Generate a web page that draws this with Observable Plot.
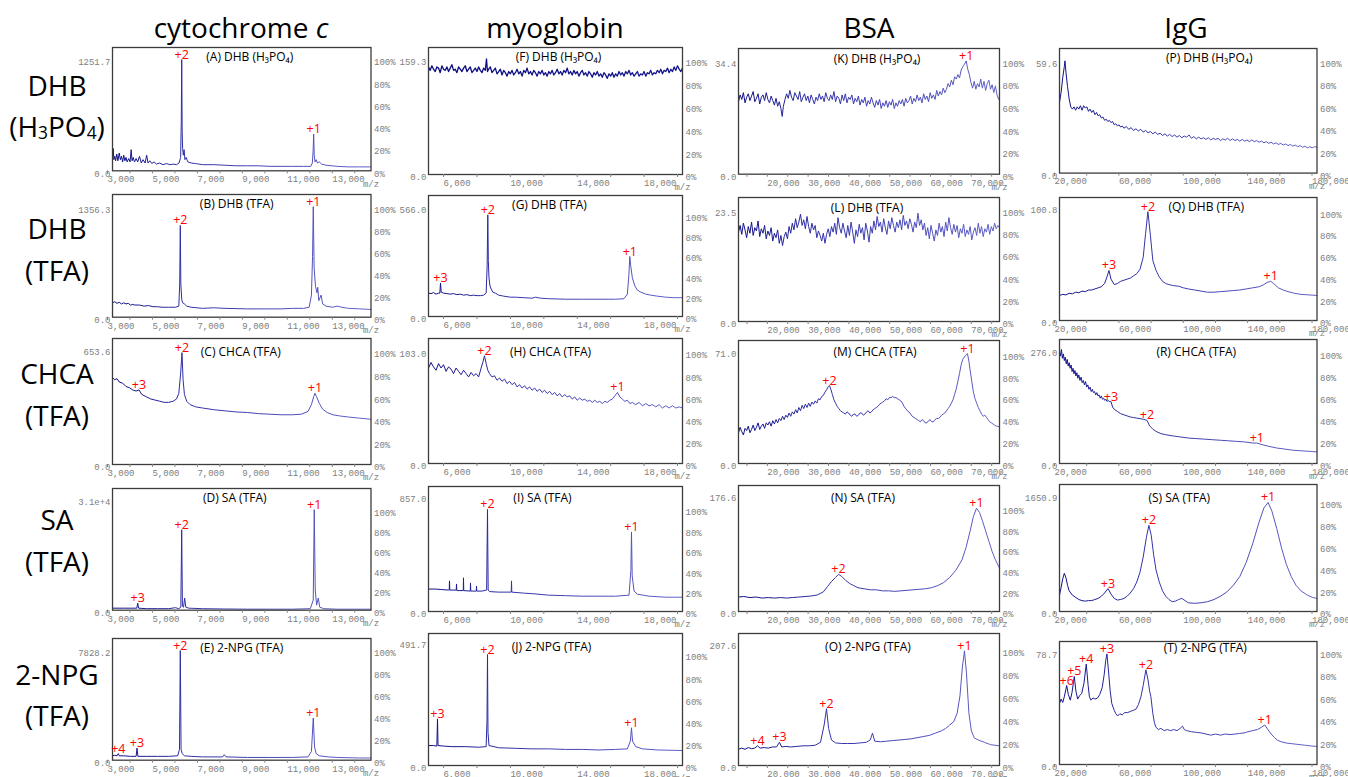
<!DOCTYPE html>
<html><head><meta charset="utf-8">
<script src="https://cdn.jsdelivr.net/npm/d3@7"></script>
<script src="https://cdn.jsdelivr.net/npm/@observablehq/plot@0.6"></script>
<style>
html,body{margin:0;padding:0;background:#fff;}
#root{position:relative;width:1348px;height:777px;overflow:hidden;font-family:"Open Sans","Noto Sans",sans-serif;}
.hdr,.rowlab{position:absolute;transform:translate(-50%,-50%);white-space:nowrap;color:#000;line-height:1;}
.hdr{font-size:28px;}
.rowlab{font-size:28px;}
.sub{font-size:0.62em;vertical-align:-0.12em;}
</style></head><body><div id="root"></div>
<script>
// ---------------- DATA ----------------
const columnHeaders = ["cytochrome <i>c</i>", "myoglobin", "BSA", "IgG"];
const rowLabels = [["DHB", "(H<span class='sub'>3</span>PO<span class='sub'>4</span>)"], ["DHB", "(TFA)"], ["CHCA", "(TFA)"], ["SA", "(TFA)"], ["2-NPG", "(TFA)"]];
const panelLetters = [["A","B","C","D","E"],["F","G","H","I","J"],["K","L","M","N","O"],["P","Q","R","S","T"]];
const panelTitles = {A:"(A) DHB (H₃PO₄)",B:"(B) DHB (TFA)",C:"(C) CHCA (TFA)",D:"(D) SA (TFA)",E:"(E) 2-NPG (TFA)",
  F:"(F) DHB (H₃PO₄)",G:"(G) DHB (TFA)",H:"(H) CHCA (TFA)",I:"(I) SA (TFA)",J:"(J) 2-NPG (TFA)",
  K:"(K) DHB (H₃PO₄)",L:"(L) DHB (TFA)",M:"(M) CHCA (TFA)",N:"(N) SA (TFA)",O:"(O) 2-NPG (TFA)",
  P:"(P) DHB (H₃PO₄)",Q:"(Q) DHB (TFA)",R:"(R) CHCA (TFA)",S:"(S) SA (TFA)",T:"(T) 2-NPG (TFA)"};
const maxLabels = {A:"1251.7",B:"1356.3",C:"653.6",D:"3.1e+4",E:"7828.2",F:"159.3",G:"566.0",H:"103.0",I:"857.0",J:"491.7",
  K:"34.4",L:"23.5",M:"71.0",N:"176.6",O:"207.6",P:"59.6",Q:"100.8",R:"276.0",S:"1650.9",T:"78.7"};
const pctTicks = [0, 0.2, 0.4, 0.6, 0.8, 1.0];

const ticksCyt = [3000,4000,5000,6000,7000,8000,9000,10000,11000,12000,13000,14000];
const labelsCyt = [3000,5000,7000,9000,11000,13000];
const ticksMyo = [6000,8000,10000,12000,14000,16000,18000,20000];
const labelsMyo = [6000,10000,14000,18000];
const ticksBsa = [15000,20000,25000,30000,35000,40000,45000,50000,55000,60000,65000,70000,75000];
const labelsBsa = [20000,30000,40000,50000,60000,70000];
const ticksIgg = [20000,40000,60000,80000,100000,120000,140000,160000,180000];
const labelsIgg = [20000,60000,100000,140000,180000];

// spectra: [m/z, % of max]
const specA = [[3000,14],[3030,20],[3060,10],[3100,13],[3140,9],[3190,15],[3240,9],[3300,16],[3350,10],[3400,13],[3450,8],[3500,14],[3550,9],[3600,12],[3650,8],[3720,11],[3780,8],[3830,19],[3870,9],[3920,12],[3980,8],[4050,11],[4120,8],[4200,13],[4280,7],[4360,10],[4450,7],[4520,14],[4580,7],[4660,9],[4750,6.5],[4850,8],[4950,6],[5100,7],[5250,5.5],[5400,6.5],[5550,5.5],[5700,6],[5850,5.5],[5960,7],[6030,12],[6060,45],[6080,100],[6100,35],[6120,20],[6150,14],[6185,19],[6220,10],[6280,12],[6350,8],[6500,7],[6700,6.5],[7000,5.5],[7500,5.5],[8000,5],[8500,4.5],[9000,4.5],[9500,4.5],[10000,4],[10500,4],[11000,4],[11500,4],[11820,4],[11890,7],[11925,18],[11950,33],[11975,14],[12010,8],[12060,10],[12120,7],[12200,8],[12300,6],[12500,5],[13000,4],[13500,3.5],[14000,3.5],[14500,3.5]];
const specB = [[3000,13],[3100,14],[3200,12.5],[3300,13.5],[3400,12],[3500,13],[3600,12],[3700,12.5],[3800,11],[3900,11.5],[4000,11],[4200,11],[4400,10],[4600,10.5],[4800,9.5],[5000,9.5],[5200,9],[5500,9],[5800,9],[5950,10],[5990,30],[6016,83],[6040,30],[6080,16],[6120,13],[6200,12],[6300,10],[6500,9],[7000,8],[7500,8.5],[8000,8],[9000,7.5],[10000,7.5],[10500,7.5],[11000,8],[11500,8],[11750,9],[11850,20],[11900,55],[11932,100],[11970,45],[12030,28],[12100,22],[12130,27],[12180,15],[12280,20],[12350,12],[12500,10],[12800,9],[13000,10],[13200,9],[13500,8],[14000,7.5],[14500,7]];
const specC = [[3000,77],[3100,75],[3200,76],[3300,73],[3450,72],[3600,69],[3750,68],[3900,66],[4050,65],[4179,66],[4300,62],[4500,60],[4700,58],[4900,57],[5100,56],[5300,55],[5500,55],[5700,56],[5850,58],[5950,63],[6030,80],[6091,99],[6140,75],[6200,62],[6300,56],[6450,53],[6700,51],[7000,50],[7500,48.5],[8000,47.5],[8500,46.5],[9000,46],[9500,45],[10000,44.5],[10500,44],[11000,44],[11400,44.5],[11700,47],[11850,53],[11950,60],[12007,63],[12080,60],[12200,54],[12350,49],[12550,46],[12800,44],[13100,43],[13500,42],[14000,41],[14500,40]];
const specD = [[3000,2],[3500,2],[4000,2],[4080,2],[4121,7],[4160,2],[4500,1.5],[5000,1.5],[5500,1.5],[5800,2.5],[5950,1.5],[6040,3],[6078,80],[6110,4],[6160,3],[6211,12],[6260,3],[6400,2],[7000,1.5],[8000,1.2],[9000,1],[10000,1],[11000,1],[11800,1.5],[11930,10],[11976,100],[12020,20],[12080,5],[12154,12],[12220,3],[12400,1.5],[13000,1],[14500,1]];
const specE = [[3000,4],[3100,4.5],[3200,4],[3258,6],[3300,4],[3500,4],[3800,3.5],[4050,3.5],[4090,11],[4130,3.5],[4500,3.5],[5000,3.5],[5500,3.5],[5900,4],[5980,10],[6016,100],[6050,10],[6100,6],[6200,4],[6500,3.5],[7000,3],[7900,3],[7973,5],[8050,3],[9000,2.5],[10000,2.5],[11000,2.5],[11700,3],[11850,8],[11932,38.5],[11990,12],[12060,6],[12200,4],[12600,3],[13000,2.5],[14000,2],[14500,2]];
const specF = [[4800,94],[4900,91],[5000,95],[5100,92],[5200,90],[5300,94],[5400,93],[5500,89],[5600,95],[5700,92],[5800,91],[5900,94],[6000,90],[6100,93],[6200,96],[6300,91],[6400,92],[6500,89],[6600,94],[6700,92],[6800,90],[6900,93],[7000,95],[7100,90],[7200,92],[7300,94],[7400,89],[7500,91],[7600,93],[7700,90],[7800,94],[7900,91],[8000,89],[8100,93],[8200,91],[8271,101],[8330,90],[8400,92],[8500,94],[8600,89],[8700,91],[8800,93],[8900,88],[9000,90],[9100,92],[9200,87],[9300,91],[9400,89],[9500,86],[9600,90],[9700,88],[9800,91],[9900,87],[10000,89],[10100,92],[10200,88],[10300,90],[10400,86],[10500,91],[10600,89],[10700,93],[10800,88],[10900,90],[11000,87],[11100,91],[11200,89],[11300,86],[11400,90],[11500,88],[11600,91],[11700,87],[11800,89],[11900,86],[12000,90],[12100,88],[12200,91],[12300,87],[12400,89],[12500,92],[12600,88],[12700,90],[12800,87],[12900,91],[13000,89],[13100,93],[13200,88],[13300,90],[13400,87],[13500,91],[13600,88],[13700,90],[13800,86],[13900,89],[14000,91],[14100,87],[14200,89],[14300,86],[14400,90],[14500,88],[14600,85],[14700,89],[14800,87],[14900,90],[15000,86],[15100,88],[15200,85],[15300,89],[15400,87],[15500,84],[15600,88],[15700,86],[15800,89],[15900,85],[16000,88],[16100,86],[16200,90],[16300,87],[16400,89],[16500,86],[16600,90],[16700,88],[16800,91],[16900,87],[17000,89],[17100,86],[17200,88],[17300,90],[17400,86],[17500,88],[17600,87],[17700,90],[17800,86],[17900,89],[18000,88],[18100,91],[18200,87],[18300,89],[18400,88],[18500,91],[18600,89],[18700,92],[18800,88],[18900,91],[19000,90],[19100,93],[19200,89],[19300,92],[19400,90],[19500,94],[19600,91],[19700,95],[19800,92],[19900,90],[20000,93]];
const specG = [[4800,23],[4950,22.5],[5100,23.5],[5250,22],[5400,23],[5480,23],[5518,33],[5560,24],[5700,23],[5900,22.5],[6100,22],[6300,22.5],[6500,21.5],[6700,22],[6900,21],[7100,21.5],[7300,20.5],[7500,21],[7700,20.5],[7900,20.5],[8100,21],[8250,23],[8310,50],[8349,100],[8380,55],[8420,38],[8480,30],[8550,27],[8650,24],[8800,23],[9000,21],[9300,20],[9700,19],[10000,19],[10500,18.5],[11000,18],[11200,19],[11500,18],[12000,17.5],[13000,17],[14000,17],[15000,17],[16000,17],[16500,17.5],[16700,22],[16790,40],[16846,59],[16900,50],[17000,38],[17150,30],[17300,26],[17500,24],[17800,22],[18100,21],[18500,20],[19000,19],[19500,18.5],[20000,18.5]];
const specH = [[4800,86],[4950,91],[5100,87],[5250,84],[5400,90],[5550,86],[5700,89],[5850,83],[6000,87],[6150,85],[6300,81],[6450,86],[6600,83],[6750,80],[6900,84],[7050,81],[7200,78],[7350,82],[7500,79],[7650,81],[7800,78],[7950,86],[8050,91],[8151,97],[8250,90],[8350,84],[8450,81],[8600,78],[8750,79],[8900,75],[9050,77],[9200,74],[9350,76],[9500,72],[9650,74],[9800,71],[9950,73],[10100,69],[10250,71],[10400,68],[10550,70],[10700,67],[10850,69],[11000,66],[11150,68],[11300,65],[11450,67],[11600,64],[11750,66],[11900,63],[12050,65],[12200,62],[12350,64],[12500,61],[12650,63],[12800,60],[12950,62],[13100,60],[13250,61],[13400,58],[13550,60],[13700,57],[13850,59],[14000,57],[14150,58],[14300,56],[14450,57],[14600,55],[14750,57],[14900,55],[15050,56],[15200,54],[15350,56],[15500,55],[15650,57],[15800,58],[15950,61],[16110,64],[16250,60],[16400,58],[16550,56],[16700,57],[16850,54],[17000,55],[17200,53],[17400,55],[17600,52],[17800,54],[18000,52],[18200,53],[18400,51],[18600,53],[18800,50],[19000,52],[19200,50],[19400,52],[19600,50],[19800,51],[20000,50]];
const specI = [[4800,22],[5200,22],[5600,21.5],[6000,21],[6040,21],[6057,30],[6075,21],[6460,21],[6476,27],[6495,20.5],[6880,20.5],[6894,33],[6910,20.5],[7300,20],[7313,28],[7330,20],[7660,20],[7672,25],[7690,20],[8000,20],[8280,21],[8331,100],[8370,21],[8450,19.5],[9000,19],[9750,19],[9767,30],[9785,19],[10500,18],[11000,17.5],[12000,16],[13000,15.5],[14000,15],[15000,15],[16000,15],[16800,16],[16910,40],[16948,78],[16990,35],[17100,20],[17300,17],[18000,15],[19000,14],[20000,14]];
const specJ = [[4800,18],[5100,18],[5300,17.5],[5339,42],[5370,18],[5700,17.5],[6200,17],[7000,17],[7800,16.5],[8250,17],[8300,40],[8331,100],[8360,30],[8420,18],[9000,16],[10000,15.5],[11000,15],[12000,15],[13000,14.5],[14000,14.5],[15000,14],[16000,14.5],[16700,15],[16880,22],[16948,34],[17010,22],[17200,17],[17600,15],[18500,14],[20000,13.5]];
const specK = [[11700,64],[12100,70],[12500,66],[12900,72],[13300,63],[13700,68],[14100,71],[14500,65],[14900,69],[15300,73],[15700,64],[16100,67],[16500,71],[16900,62],[17300,68],[17700,70],[18100,65],[18500,72],[18900,66],[19300,63],[19700,69],[20100,65],[20500,61],[20900,67],[21300,60],[21700,64],[22100,58],[22415,51],[22700,60],[23100,66],[23500,71],[23900,67],[24300,74],[24700,68],[25100,65],[25500,72],[25900,69],[26300,66],[26700,73],[27100,64],[27500,68],[27900,71],[28300,65],[28700,69],[29100,63],[29500,70],[29900,66],[30300,62],[30700,68],[31100,65],[31500,71],[31900,66],[32300,69],[32700,64],[33100,72],[33500,67],[33900,65],[34300,70],[34700,66],[35100,73],[35500,64],[35900,69],[36300,67],[36700,62],[37100,70],[37500,65],[37900,71],[38300,63],[38700,68],[39100,66],[39500,70],[39900,62],[40300,67],[40700,64],[41100,69],[41500,61],[41900,66],[42300,63],[42700,68],[43100,60],[43500,65],[43900,62],[44300,68],[44700,63],[45100,59],[45500,65],[45900,61],[46300,66],[46700,58],[47100,63],[47500,60],[47900,65],[48300,59],[48700,64],[49100,61],[49500,66],[49900,58],[50300,63],[50700,60],[51100,65],[51500,62],[51900,66],[52300,60],[52700,67],[53100,63],[53500,65],[53900,69],[54300,62],[54700,67],[55100,64],[55500,70],[55900,65],[56300,68],[56700,63],[57100,71],[57500,66],[57900,69],[58300,64],[58700,72],[59100,67],[59500,70],[59900,66],[60300,74],[60700,69],[61100,73],[61500,70],[61900,76],[62300,72],[62700,75],[63100,80],[63500,77],[63900,83],[64300,79],[64700,86],[65100,84],[65500,88],[65900,85],[66300,92],[66700,95],[67100,97],[67530,100],[67900,93],[68300,88],[68700,81],[69100,76],[69500,82],[69900,75],[70300,80],[70700,77],[71100,84],[71500,76],[71900,82],[72300,74],[72700,80],[73100,83],[73500,75],[73900,79],[74300,72],[74700,78],[75100,70],[75500,66],[75700,68]];
const specL = [[11700,80],[12100,86],[12500,78],[12900,88],[13300,82],[13700,75],[14100,85],[14500,79],[14900,89],[15300,77],[15700,84],[16100,81],[16500,90],[16900,76],[17300,83],[17700,79],[18100,86],[18500,74],[18900,81],[19300,77],[19700,84],[20100,72],[20500,79],[20900,75],[21300,82],[21700,70],[22100,77],[22500,68],[22900,76],[23300,80],[23700,74],[24100,85],[24500,79],[24900,88],[25300,82],[25700,92],[26100,84],[26500,89],[26900,96],[27300,86],[27700,91],[28100,83],[28500,94],[28900,85],[29300,79],[29700,88],[30100,82],[30500,86],[30900,75],[31300,81],[31700,77],[32100,72],[32500,79],[32900,70],[33300,78],[33700,83],[34100,76],[34500,85],[34900,80],[35300,88],[35700,78],[36100,93],[36500,84],[36900,79],[37300,88],[37700,81],[38100,75],[38500,86],[38900,77],[39300,89],[39700,80],[40100,70],[40500,82],[40900,76],[41300,87],[41700,79],[42100,84],[42500,73],[42900,88],[43300,81],[43700,71],[44100,85],[44500,79],[44900,90],[45300,82],[45700,94],[46100,85],[46500,89],[46900,80],[47300,92],[47700,84],[48100,78],[48500,90],[48900,83],[49300,93],[49700,86],[50100,80],[50500,89],[50900,84],[51300,91],[51700,82],[52100,95],[52500,86],[52900,90],[53300,83],[53700,92],[54100,87],[54500,80],[54900,89],[55300,84],[55700,97],[56100,86],[56500,91],[56900,82],[57300,88],[57700,77],[58100,84],[58500,74],[58900,86],[59300,79],[59700,72],[60100,82],[60500,77],[60900,88],[61300,80],[61700,85],[62100,76],[62500,89],[62900,81],[63300,93],[63700,84],[64100,78],[64500,87],[64900,80],[65300,86],[65700,75],[66100,83],[66500,79],[66900,87],[67300,76],[67700,82],[68100,78],[68500,85],[68900,73],[69300,80],[69700,84],[70100,77],[70500,88],[70900,79],[71300,85],[71700,76],[72100,83],[72500,80],[72900,87],[73300,78],[73700,85],[74100,81],[74500,88],[74900,83],[75300,86],[75700,84]];
const specM = [[11700,28],[12100,33],[12500,29],[12900,26],[13300,32],[13700,30],[14100,34],[14500,28],[14900,31],[15300,35],[15700,30],[16100,33],[16500,37],[16900,31],[17300,34],[17700,36],[18100,32],[18500,37],[18900,35],[19300,38],[19700,34],[20100,39],[20500,36],[20900,40],[21300,37],[21700,41],[22100,39],[22500,43],[22900,40],[23300,44],[23700,42],[24100,46],[24500,43],[24900,47],[25300,45],[25700,49],[26100,46],[26500,51],[26900,48],[27300,53],[27700,50],[28100,54],[28500,51],[28900,55],[29300,52],[29700,56],[30100,54],[30500,57],[30900,55],[31300,59],[31700,58],[32100,61],[32500,62],[32900,65],[33300,67],[33700,70],[34010,71],[34400,67],[34700,63],[35100,58],[35500,55],[35900,52],[36300,50],[36700,48],[37100,47],[37500,46],[37900,45],[38300,47],[38700,46],[39100,44],[39500,43],[39900,45],[40300,45],[40700,43],[41100,44],[41500,46],[41900,46],[42300,44],[42700,45],[43100,47],[43500,48],[43900,46],[44300,47],[44700,49],[45100,50],[45500,51],[45900,52],[46300,54],[46700,55],[47100,56],[47500,57],[47900,59],[48300,58],[48700,60],[49100,60],[49500,61],[49900,60],[50300,60],[50700,59],[51100,58],[51500,57],[51900,55],[52300,52],[52700,50],[53100,48],[53500,47],[53900,45],[54300,43],[54700,42],[55100,41],[55500,40],[55900,39],[56300,38],[56700,40],[57100,39],[57500,37],[57900,37],[58300,39],[58700,40],[59100,38],[59500,38],[59900,40],[60300,41],[60700,41],[61100,42],[61500,44],[61900,45],[62300,46],[62700,48],[63100,50],[63500,52],[63900,55],[64300,58],[64700,63],[65100,68],[65500,75],[65900,82],[66300,90],[66700,95],[67300,98],[67850,100],[68200,93],[68500,85],[68900,75],[69300,65],[69700,59],[70100,55],[70500,51],[70900,48],[71300,45],[71700,43],[72100,44],[72500,42],[72900,40],[73300,38],[73700,37],[74100,36],[74500,35],[74900,34],[75300,34],[75700,33]];
const specN = [[11700,14],[13000,14.5],[14500,13.5],[16000,14],[17500,13],[19000,13.5],[20500,13],[22000,13.5],[23500,13],[25000,13.5],[26500,14],[28000,14.5],[29500,15],[31000,16],[32500,19],[33500,24],[34500,29],[35500,33],[36220,36],[37000,34],[38000,30],[39000,27],[40000,25],[41000,23],[42500,22],[44000,21],[45500,21],[47000,20],[48500,20],[50000,19.5],[51500,20],[53000,20.5],[54500,21],[56000,21.5],[57500,22],[59000,23],[60500,25],[62000,28],[63500,33],[65000,40],[66500,50],[67500,62],[68500,78],[69300,92],[70060,100],[70800,96],[71500,88],[72300,78],[73100,68],[73900,58],[74700,50],[75700,42]];
const specO = [[11700,14],[12500,15],[13300,14],[14100,15.5],[14900,14.5],[15700,15],[16360,17],[17000,15],[18000,15.5],[19000,15],[20000,16],[21000,16],[21750,20],[22300,16],[23300,16.5],[24500,16],[26000,16.5],[27500,17],[29000,17],[30500,17.5],[31800,20],[32700,35],[33280,49],[33800,32],[34500,22],[35500,19.5],[37000,19],[38500,19],[40000,19],[41500,19.5],[43000,20],[44000,22],[44560,28],[45100,21],[46500,20.5],[48000,21],[49500,21.5],[51000,22],[52500,22.5],[54000,23],[55500,24],[57000,25],[58500,26],[60000,28],[61500,30],[62500,32],[63500,35],[64500,38],[65300,45],[66000,60],[66600,85],[67110,99],[67600,80],[68200,45],[68800,30],[69500,24],[70500,22],[72000,20],[73500,18],[75700,17]];
const specP = [[20000,63],[21000,72],[22000,85],[23000,95],[23400,100],[24000,90],[25000,77],[26000,66],[27000,59],[28000,57],[29000,59],[30000,56],[31000,59],[32000,57],[33000,60],[34000,56],[35000,60],[36000,58],[37000,59],[38000,55],[39000,57],[40000,54],[41000,56],[42000,52],[43000,54],[44000,51],[45000,52],[46000,49],[47000,50],[48000,47],[49000,48],[50000,46],[51000,47],[52000,45],[53000,46],[54000,43],[55000,44],[56000,42],[57000,43],[58000,41],[59000,42],[60000,40],[61500,41.5],[63000,39],[64500,40.5],[66000,38],[67500,39.5],[69000,37.5],[70500,39],[72000,36.5],[73500,38],[75000,36],[76500,37],[78000,35],[79500,36.5],[81000,34.5],[82500,35.5],[84000,33.5],[85500,35],[87000,33],[88500,34.5],[90000,32.5],[91500,34],[93000,32],[94500,33.5],[96000,31.5],[97500,33],[99000,32],[100500,34],[102000,31],[103500,32.5],[105000,30.5],[106500,32],[108000,30.5],[109500,31.5],[111000,30],[112500,31.5],[114000,29.5],[115500,31],[117000,30],[118500,31],[120000,29],[121500,30.5],[123000,29.5],[124500,31],[126000,29],[127500,30.5],[129000,29],[130500,30],[132000,28.5],[133500,30],[135000,28.5],[136500,29.5],[138000,28],[139500,29.5],[141000,28],[142500,29],[144000,27.5],[145500,28.5],[147000,27],[148500,28],[150000,26.5],[151500,27.5],[153000,26],[154500,27],[156000,25.5],[157500,26.5],[159000,25],[160500,26],[162000,24.5],[163500,25.5],[165000,24],[166500,25],[168000,23.5],[169500,24.5],[171000,23],[172500,24],[174000,22.5],[175500,23.5],[177000,22.5],[178500,23.5],[180000,23]];
const specQ = [[20000,23],[22000,24],[24000,23.5],[26000,25],[28000,24.5],[30000,26],[32000,25.5],[34000,27],[36000,26.5],[38000,28],[40000,28],[42000,29],[44000,30],[46000,31],[48000,34],[49500,40],[50720,46],[52000,38],[54000,33],[56000,34],[58000,36],[60000,37],[62000,38],[64000,39],[66000,41],[68000,43],[70000,47],[72000,58],[73500,80],[74920,100],[76500,78],[78000,55],[80000,46],[82000,40],[84000,36],[86000,34],[88000,33],[91000,32],[94000,31.5],[97000,30],[100000,29],[104000,28],[108000,27],[112000,26],[116000,26],[120000,26.5],[124000,27],[128000,27.5],[132000,28],[136000,29],[140000,30],[144000,31],[147000,33],[149000,35],[151250,36],[153000,34],[156000,30],[159000,28],[162000,26.5],[166000,25],[170000,24],[175000,23.5],[180000,23]];
const specR = [[20000,101],[20600,97],[21200,103],[21800,95],[22400,99],[23000,93],[23600,96],[24200,90],[24800,94],[25400,88],[26000,91],[26600,86],[27200,89],[27800,83],[28400,86],[29000,81],[29600,84],[30200,79],[30800,82],[31400,77],[32000,80],[32700,75],[33400,78],[34100,73],[34800,75],[35500,71],[36200,74],[36900,69],[37600,71],[38300,67],[39000,69],[39700,65],[40400,67],[41100,64],[41800,65],[42500,62],[43200,64],[43900,61],[44600,62],[45300,59],[46000,61],[46700,58],[47400,59],[48100,57],[48800,58],[49500,56],[50200,57],[51000,56],[51970,56],[53000,51],[54000,49],[56000,47],[58000,45],[60000,44],[62000,43],[64000,42],[66000,41.5],[68000,41],[70000,40.5],[72000,40],[74310,39],[76000,34],[78000,31],[80000,29],[83000,27],[86000,26],[90000,25],[95000,24],[100000,23],[105000,22.5],[110000,22],[115000,21.5],[120000,21],[125000,20.5],[130000,20],[135000,19.5],[140000,18.5],[142580,18.5],[146000,17],[150000,15.5],[155000,14],[160000,13],[165000,12],[170000,11.5],[175000,11],[180000,10.5]];
const specS = [[20000,15],[21000,22],[22000,30],[23000,35],[24000,31],[25000,24],[26000,19],[28000,15],[30000,13],[32000,11],[34000,10],[36000,9.5],[38000,10],[40000,10],[42000,11],[44000,12],[46000,14],[48000,17],[50100,21],[52000,16],[54000,12],[56000,10.5],[58000,11],[60000,12],[62000,14],[64000,17],[66000,21],[68000,27],[70000,36],[72000,50],[74000,68],[75540,79],[77000,70],[78500,52],[80000,38],[82000,27],[84000,19],[86000,14],[88000,11],[90000,9],[92000,9.5],[94000,11],[96000,12],[98000,10],[100000,8],[104000,7.5],[108000,8],[112000,9],[116000,11],[120000,14],[124000,18],[128000,24],[132000,32],[136000,45],[140000,62],[144000,82],[147000,95],[149600,100],[152000,92],[155000,76],[158000,58],[161000,43],[164000,32],[167000,24],[170000,19],[174000,15],[177000,13],[180000,12]];
const specT = [[20000,54],[21000,58],[22000,55],[23000,60],[24470,70],[25500,62],[26700,57],[27800,64],[29180,78],[30200,65],[31290,58],[32500,61],[33800,63],[35200,72],[36630,89],[37800,70],[38600,60],[39550,57],[40800,59],[42000,58],[43700,59],[45000,62],[46500,68],[47800,80],[48700,92],[49480,98],[50500,82],[51500,65],[52500,54],[54000,48],[55000,45],[56100,43],[57500,45],[59000,44],[60500,46],[62300,46],[64000,47],[65800,48],[67500,49],[69000,53],[70600,60],[72000,70],[73680,84],[75000,75],[76000,65],[76790,60],[78000,45],[79000,37],[79900,33],[81500,31],[83000,32],[85030,30],[87000,31],[89000,30],[91000,31],[93000,30],[95000,32],[96460,34],[97500,31],[99000,30],[102000,29],[105000,28.5],[108000,28],[111000,27],[114000,26],[117000,27],[120000,26],[123000,27],[126000,26.5],[129000,27],[132000,27.5],[134700,28],[137000,29],[140000,30],[143000,31],[145500,33],[147530,35],[149500,31],[151500,27],[153500,24],[155400,21.5],[158000,20],[161000,19],[164000,18.5],[167000,18],[170000,17.5],[173000,17],[176000,16.5],[180000,16]];

// charge-state labels: [text, m/z, % of max]
const peaksA = [["+2",6080,100],["+1",11950,33]];
const peaksB = [["+2",6016,83],["+1",11932,100]];
const peaksC = [["+3",4179,66],["+2",6091,99],["+1",12007,63]];
const peaksD = [["+3",4121,7],["+2",6078,80],["+1",11976,100]];
const peaksE = [["+4",3258,6],["+3",4090,11],["+2",6016,100],["+1",11932,38.5]];
const peaksF = [];
const peaksG = [["+3",5518,33],["+2",8349,100],["+1",16846,59]];
const peaksH = [["+2",8151,97],["+1",16110,64]];
const peaksI = [["+2",8331,100],["+1",16948,78]];
const peaksJ = [["+3",5339,42],["+2",8331,100],["+1",16948,34]];
const peaksK = [["+1",67530,100]];
const peaksL = [];
const peaksM = [["+2",34010,71],["+1",67850,100]];
const peaksN = [["+2",36220,36],["+1",70060,100]];
const peaksO = [["+4",16360,17],["+3",21750,20],["+2",33280,49],["+1",67110,99]];
const peaksP = [];
const peaksQ = [["+3",50720,46],["+2",74920,100],["+1",151250,36]];
const peaksR = [["+3",51970,56],["+2",74310,39],["+1",142580,18.5]];
const peaksS = [["+3",50100,21],["+2",75540,79],["+1",149600,100]];
const peaksT = [["+6",24470,70],["+5",29180,78],["+4",36630,89],["+3",49480,98],["+2",73680,84],["+1",147530,35]];

const spectra = {A:specA,B:specB,C:specC,D:specD,E:specE,F:specF,G:specG,H:specH,I:specI,J:specJ,K:specK,L:specL,M:specM,N:specN,O:specO,P:specP,Q:specQ,R:specR,S:specS,T:specT};
const peaks = {A:peaksA,B:peaksB,C:peaksC,D:peaksD,E:peaksE,F:peaksF,G:peaksG,H:peaksH,I:peaksI,J:peaksJ,K:peaksK,L:peaksL,M:peaksM,N:peaksN,O:peaksO,P:peaksP,Q:peaksQ,R:peaksR,S:peaksS,T:peaksT};

// ---------------- LAYOUT ----------------
const colAxes = [
  {domain:[3000,14500], ticks:ticksCyt, labels:labelsCyt, x0:111.5, x1:370},
  {domain:[4800,20000], ticks:ticksMyo, labels:labelsMyo, x0:428, x1:682},
  {domain:[11700,75700], ticks:ticksBsa, labels:labelsBsa, x0:738, x1:999},
  {domain:[20000,180000], ticks:ticksIgg, labels:labelsIgg, x0:1058.5, x1:1316}
];
// letter: [frameTop, frameBottom, yMax, maxLabelAt, titleDx, titleDy, lineStyle]
const layout = {
  A:[46.7,170,1.108,1.0,8,9.5,0], B:[194,316.7,1.11,1.0,-5,10,0], C:[338,464,1.115,1.02,-1,14,0], D:[488.3,610,1.21,1.1,-7,10,0], E:[638.3,760,1.11,1.0,0,10,0],
  F:[47.3,174.3,1.11,1.01,3,9.5,1], G:[195,316,1.19,1.08,-6,10,0], H:[338,463,1.126,1.01,-5,14,0], I:[486,611,1.225,1.13,-13,12,0], J:[633,765,1.19,1.11,-4,14,0],
  K:[48.3,174,1.11,1.0,8,11,0], L:[196.7,320.7,1.11,1.0,-2,10.5,0], M:[340,463,1.12,1.02,6,12,0], N:[485,611,1.22,1.13,-6,13,0], O:[633,765,1.14,1.06,-1,14,0],
  P:[47.7,172.3,1.11,1.0,21,9.5,0], Q:[197,320,1.13,1.04,18,10,0], R:[339,463,1.12,1.02,8,13,0], S:[484,611,1.165,1.07,-9,14,0], T:[641,764,1.09,1.0,17,7,0]
};
const headerPos = [[241,27],[555,27],[869,27],[1186,27]];
const rowLabelPos = [[57,85,127],[57,228,270],[57,373,415],[57,519,561],[57,674,715]];

const mono = "'Liberation Mono','DejaVu Sans Mono',monospace";
const sans = "'Open Sans','Noto Sans',sans-serif";
const root = document.getElementById("root");

columnHeaders.forEach((h, i) => {
  const d = document.createElement("div"); d.className = "hdr"; d.innerHTML = h;
  d.style.left = headerPos[i][0] + "px"; d.style.top = headerPos[i][1] + "px"; root.appendChild(d);
});
rowLabels.forEach((lines, i) => {
  lines.forEach((t, j) => {
    const d = document.createElement("div"); d.className = "rowlab"; d.innerHTML = t;
    d.style.left = rowLabelPos[i][0] + "px"; d.style.top = rowLabelPos[i][1 + j] + "px"; root.appendChild(d);
  });
});

function gradientDefs(id, dark) {
  const stops = dark ? [["0","#0a0a80"],["1","#16168e"]] : [["0","#0e0e84"],["0.3","#3030a8"],["1","#6262c8"]];
  return () => {
    const ns = "http://www.w3.org/2000/svg";
    const defs = document.createElementNS(ns, "defs");
    const g = document.createElementNS(ns, "linearGradient");
    g.setAttribute("id", id); g.setAttribute("x1", "0"); g.setAttribute("x2", "1"); g.setAttribute("y1", "0"); g.setAttribute("y2", "0");
    stops.forEach(([o, c]) => { const s = document.createElementNS(ns, "stop"); s.setAttribute("offset", o); s.setAttribute("stop-color", c); g.appendChild(s); });
    defs.appendChild(g); return defs;
  };
}

function drawPanel(letter, ci) {
  const col = colAxes[ci];
  const [top, bottom, ymax, labAt, tdx, tdy, dark] = layout[letter];
  const mL = 44, mR = 34, mT = 4, mB = 24;
  const W = col.x1 - col.x0, H = bottom - top;
  const gid = "grad" + letter;
  const data = spectra[letter].map(([x, y]) => ({x, y: y / 100}));
  const pk = peaks[letter].map(([t, x, y]) => ({t, x, y: y / 100}));
  const fmt = d3.format(",");
  const svg = Plot.plot({
    width: W + mL + mR, height: H + mT + mB,
    marginLeft: mL, marginRight: mR, marginTop: mT, marginBottom: mB,
    style: {background: "transparent", overflow: "visible", color: "#808080", fontFamily: mono, fontSize: "9px"},
    x: {domain: col.domain, label: null},
    y: {domain: [0, ymax], label: null},
    marks: [
      gradientDefs(gid, dark),
      Plot.line(data, {x: "x", y: "y", stroke: `url(#${gid})`, strokeWidth: dark ? 1.3 : 1}),
      Plot.frame({stroke: "#3c3c3c", strokeWidth: 1.3}),
      Plot.axisX({ticks: col.ticks, tickFormat: d => col.labels.includes(d) ? fmt(d) : "", tickSize: 3, tickPadding: 2, textAnchor: "start", dx: -5, label: null}),
      Plot.axisY({anchor: "right", ticks: pctTicks, tickFormat: d3.format(".0%"), tickSize: 0, tickPadding: 3, dy: 3, label: null}),
      Plot.axisY({anchor: "left", ticks: [0, labAt], tickFormat: d => d === 0 ? "0.0" : maxLabels[letter], tickSize: 0, tickPadding: 2, dy: 3, label: null}),
      Plot.text(["m/z"], {frameAnchor: "bottom-right", text: d => d, textAnchor: "middle", lineAnchor: "middle", dy: 13, fill: "#808080", fontFamily: mono, fontSize: 9}),
      Plot.text([panelTitles[letter]], {frameAnchor: "top", text: d => d, textAnchor: "middle", lineAnchor: "middle", dx: tdx, dy: tdy, fill: "#000", fontFamily: sans, fontSize: 12}),
      Plot.text(pk, {x: "x", y: "y", text: "t", lineAnchor: "bottom", dy: -1, fill: "#ff0000", fontFamily: sans, fontSize: 12.5})
    ]
  });
  svg.style.position = "absolute";
  svg.style.left = (col.x0 - mL) + "px";
  svg.style.top = (top - mT) + "px";
  root.appendChild(svg);
}

panelLetters.forEach((letters, ci) => letters.forEach(l => drawPanel(l, ci)));
</script></body></html>
